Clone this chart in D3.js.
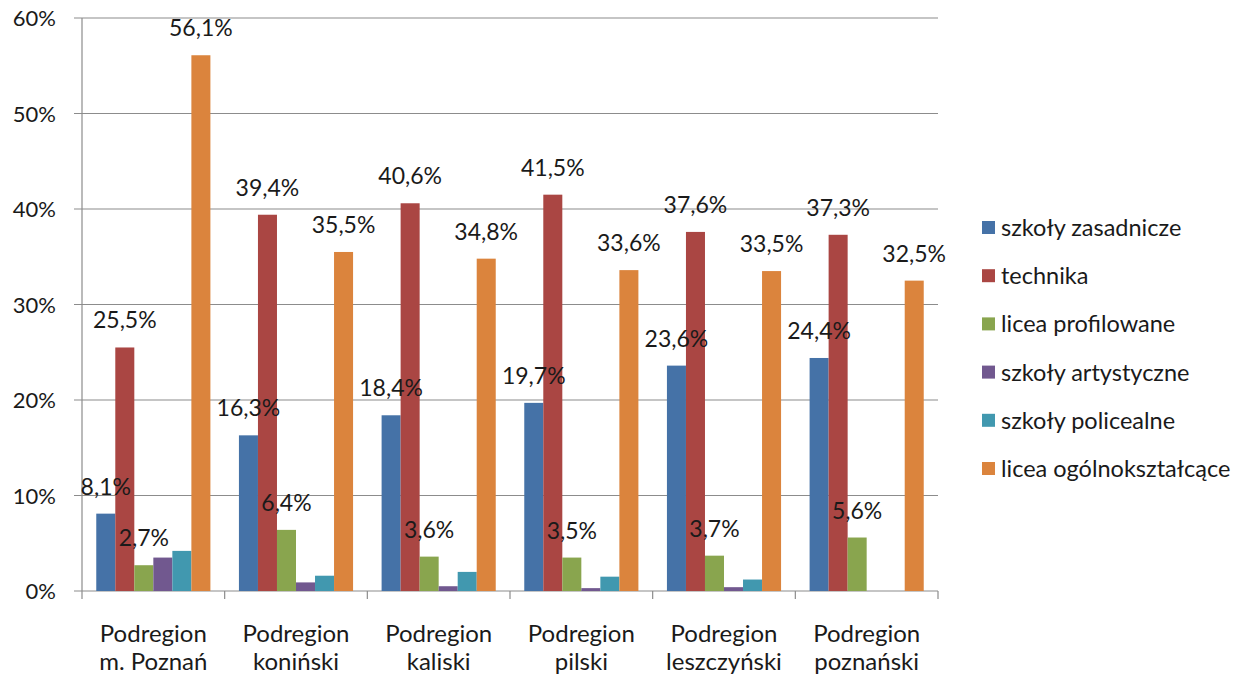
<!DOCTYPE html>
<html>
<head>
<meta charset="utf-8">
<script src="https://cdn.jsdelivr.net/npm/d3@7"></script>
<style>
  body { margin: 0; background: #fff; }
  svg text { font-family: Lato, "Noto Sans", sans-serif; fill: #1a1a1a; }
</style>
</head>
<body>
<svg id="chart" width="1254" height="677"></svg>
<script>
// categories (two-line labels)
const regions = [
  ['Podregion', 'm. Poznań'],
  ['Podregion', 'koniński'],
  ['Podregion', 'kaliski'],
  ['Podregion', 'pilski'],
  ['Podregion', 'leszczyński'],
  ['Podregion', 'poznański']
];
const seriesNames = ['szkoły zasadnicze', 'technika', 'licea profilowane',
  'szkoły artystyczne', 'szkoły policealne', 'licea ogólnokształcące'];
const seriesColors = ['#4572A7', '#AA4643', '#89A54E', '#71588F', '#4198AF', '#DB843D'];

// values in %, one array per series (order = regions)
const zasadnicze = [8.1, 16.3, 18.4, 19.7, 23.6, 24.4];
const technika = [25.5, 39.4, 40.6, 41.5, 37.6, 37.3];
const profilowane = [2.7, 6.4, 3.6, 3.5, 3.7, 5.6];
const artystyczne = [3.5, 0.9, 0.5, 0.3, 0.4, 0];
const policealne = [4.2, 1.6, 2.0, 1.5, 1.2, 0];
const ogolnoksztalcace = [56.1, 35.5, 34.8, 33.6, 33.5, 32.5];
const yTicks = [0, 10, 20, 30, 40, 50, 60];
// series that carry a data label
const labelled = [true, true, true, false, false, true];

const series = [zasadnicze, technika, profilowane, artystyczne, policealne, ogolnoksztalcace];

const svg = d3.select('#chart');
const plotL = 82, plotR = 938, plotT = 18, plotB = 591;

const x0 = d3.scaleBand().domain(d3.range(regions.length)).range([plotL, plotR]);
const x1 = d3.scaleBand().domain(d3.range(series.length))
  .range([x0.bandwidth() * 0.1, x0.bandwidth() * 0.9]);
const y = d3.scaleLinear().domain([0, 60]).range([plotB, plotT]);

// gridlines + y labels
const grid = svg.append('g');
grid.selectAll('line').data(yTicks).join('line')
  .attr('x1', plotL - 8).attr('x2', plotR)
  .attr('y1', d => y(d)).attr('y2', d => y(d))
  .attr('stroke', '#8c8c8c').attr('stroke-width', 1.2);
grid.selectAll('text').data(yTicks).join('text')
  .attr('x', 56).attr('y', d => y(d) + 8)
  .attr('text-anchor', 'end').attr('font-size', 22)
  .text(d => d + '%');

// axes lines
svg.append('line').attr('x1', plotL).attr('x2', plotL).attr('y1', plotT).attr('y2', plotB)
  .attr('stroke', '#8c8c8c').attr('stroke-width', 1.2);
svg.append('g').selectAll('line').data(d3.range(regions.length + 1)).join('line')
  .attr('x1', i => plotL + i * x0.bandwidth()).attr('x2', i => plotL + i * x0.bandwidth())
  .attr('y1', plotB).attr('y2', plotB + 8)
  .attr('stroke', '#8c8c8c').attr('stroke-width', 1.2);

// bars
const groups = svg.append('g').selectAll('g').data(regions).join('g')
  .attr('transform', (d, i) => `translate(${x0(i)},0)`);
groups.each(function (d, ci) {
  const g = d3.select(this);
  series.forEach((vals, si) => {
    const v = vals[ci];
    if (v > 0) {
      g.append('rect')
        .attr('x', x1(si)).attr('width', x1.bandwidth())
        .attr('y', y(v)).attr('height', plotB - y(v))
        .attr('fill', seriesColors[si]);
    }
  });
  series.forEach((vals, si) => {
    if (!labelled[si]) return;
    const v = vals[ci];
    g.append('text')
      .attr('x', x1(si) + x1.bandwidth() / 2)
      .attr('y', y(v) - 19)
      .attr('text-anchor', 'middle').attr('font-size', 23)
      .text(v.toFixed(1).replace('.', ',') + '%');
  });
});

// category labels
const cat = svg.append('g').selectAll('text').data(regions).join('text')
  .attr('x', (d, i) => x0(i) + x0.bandwidth() / 2)
  .attr('y', 642).attr('text-anchor', 'middle').attr('font-size', 24);
cat.append('tspan').attr('x', (d, i) => x0(i) + x0.bandwidth() / 2).text(d => d[0]);
cat.append('tspan').attr('x', (d, i) => x0(i) + x0.bandwidth() / 2).attr('dy', 28).text(d => d[1]);

// legend
const legend = svg.append('g').selectAll('g').data(seriesNames).join('g')
  .attr('transform', (d, i) => `translate(982,${228 + i * 48.2})`);
legend.append('rect').attr('x', 0).attr('y', -7).attr('width', 13).attr('height', 13)
  .attr('fill', (d, i) => seriesColors[i]);
legend.append('text').attr('x', 19).attr('y', 8).attr('font-size', 23.5).text(d => d);
</script>
</body>
</html>
